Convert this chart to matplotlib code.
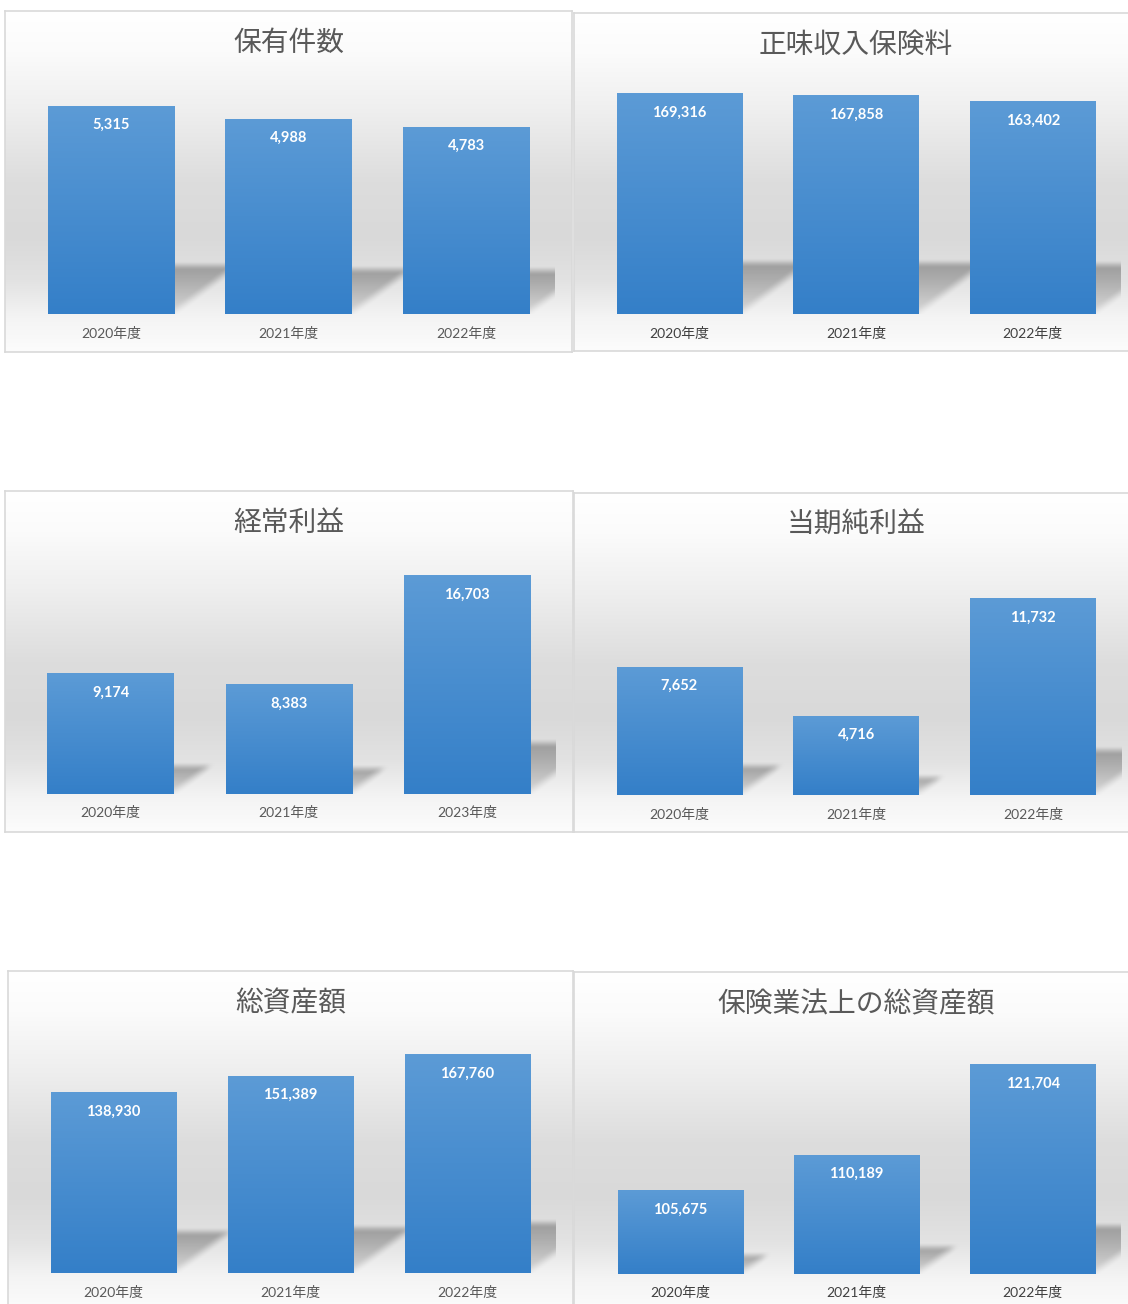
import numpy as np
import matplotlib
matplotlib.use("Agg")
import matplotlib.pyplot as plt

W, H = 1128, 1304
DPI = 100

# data
categories = ["2020年度", "2021年度", "2022年度"]
categories_ordinary = ["2020年度", "2021年度", "2023年度"]

holdings = [5315, 4988, 4783]
net_premiums = [169316, 167858, 163402]
ordinary_profit = [9174, 8383, 16703]
net_income = [7652, 4716, 11732]
total_assets = [138930, 151389, 167760]
statutory_assets = [105675, 110189, 121704]

titles = ["保有件数", "正味収入保険料", "経常利益", "当期純利益", "総資産額", "保険業法上の総資産額"]
y_ranges = [(0, 6000), (0, 180000), (0, 18000), (0, 14000), (0, 180000), (95000, 125000)]

panels = [
    (titles[0], categories, holdings, y_ranges[0]),
    (titles[1], categories, net_premiums, y_ranges[1]),
    (titles[2], categories_ordinary, ordinary_profit, y_ranges[2]),
    (titles[3], categories, net_income, y_ranges[3]),
    (titles[4], categories, total_assets, y_ranges[4]),
    (titles[5], categories, statutory_assets, y_ranges[5]),
]

# layout in pixels: panel box (l, t, r, b), plot area (l, t, r, b)
panel_boxes = [
    (5, 11, 572, 352), (574, 13, 1138, 351),
    (5, 491, 573, 832), (574, 493, 1138, 832),
    (8, 971, 573, 1311), (574, 972, 1138, 1312),
]
plot_boxes = [
    (22, 79.5, 555, 314), (591, 80, 1121, 314),
    (21.5, 558.5, 556, 794), (591, 561, 1121.5, 795),
    (25, 1039, 556, 1273), (592, 1039, 1121, 1274),
]
label_colors = ["#595959", "#404040", "#595959", "#595959", "#595959", "#404040"]

TITLE_FONT = ["Noto Sans CJK JP", "DejaVu Sans"]
LABEL_FONT = ["Lato", "Noto Sans CJK JP", "DejaVu Sans"]


def rect(box):
    l, t, r, b = box
    return [l / W, 1 - b / H, (r - l) / W, (b - t) / H]


def smooth(e0, e1, x):
    t = np.clip((x - e0) / (e1 - e0), 0, 1)
    return t * t * (3 - 2 * t)


# panel background gradient (top -> bottom)
stops = [0.0, 0.12, 0.30, 0.50, 0.66, 0.79, 0.90, 1.0]
greys = [255, 251, 238, 221, 217, 226, 244, 252]
f = np.linspace(0, 1, 500)
g = np.interp(f, stops, greys) / 255
bg_img = np.dstack([g, g, g]).reshape(500, 1, 3)

# bar gradient (top -> bottom)
top_c = np.array([92, 155, 214]) / 255
bot_c = np.array([52, 127, 200]) / 255
t = np.linspace(0, 1, 200)[:, None]
bar_img = (top_c * (1 - t) + bot_c * t).reshape(200, 1, 3)

fig = plt.figure(figsize=(W / DPI, H / DPI), dpi=DPI)
fig.patch.set_facecolor("white")

for i, (title, cats, vals, (y0, y1)) in enumerate(panels):
    ax_bg = fig.add_axes(rect(panel_boxes[i]))
    ax_bg.imshow(bg_img, aspect="auto", extent=(0, 1, 0, 1), interpolation="bilinear")
    ax_bg.set_xlim(0, 1)
    ax_bg.set_ylim(0, 1)
    ax_bg.set_xticks([])
    ax_bg.set_yticks([])
    for s in ax_bg.spines.values():
        s.set_color("#d9d9d9")
        s.set_linewidth(1.2)

    ax = fig.add_axes(rect(plot_boxes[i]))
    ax.patch.set_alpha(0)
    x = np.arange(len(cats))
    heights = np.array(vals) - y0
    bars = ax.bar(x, heights, bottom=y0, width=0.71, color="none", edgecolor="none")
    ax.set_xlim(-0.5, len(cats) - 0.5)
    ax.set_ylim(y0, y1)
    ax.axis("off")

    inv = ax.transData.inverted()
    for p, v in zip(bars, vals):
        bx, bw = p.get_x(), p.get_width()
        ax.imshow(bar_img, aspect="auto", extent=(bx, bx + bw, y0, v), zorder=3,
                  interpolation="bilinear")

        # soft perspective shadow behind the bar
        xr_px, yb_px = ax.transData.transform((bx + bw, y0))
        _, yt_px = ax.transData.transform((bx + bw, v))
        h_px = yt_px - yb_px
        hs = 0.235 * h_px
        ds = 0.32 * h_px
        u = np.arange(-4, ds + 8)
        vv = np.arange(0, hs + 8)
        U, V = np.meshgrid(u, vv)
        diag = V - U * (hs / ds)
        a = (smooth(-5, 9, diag) * smooth(hs + 4, hs - 6, V) *
             smooth(ds + 5, ds - 9, U) * (0.3 + 0.7 * V / hs))
        sh = np.zeros(U.shape + (4,))
        sh[..., :3] = 0.45
        sh[..., 3] = np.clip(0.62 * a, 0, 1)
        (ex0, ey0) = inv.transform((xr_px + u[0], yb_px + vv[0]))
        (ex1, ey1) = inv.transform((xr_px + u[-1], yb_px + vv[-1]))
        ax.imshow(sh, aspect="auto", origin="lower", extent=(ex0, ex1, ey0, ey1),
                  zorder=2, interpolation="bilinear")

        ax.annotate(f"{v:,}", xy=(p.get_x() + bw / 2, v), xytext=(0, -19),
                    textcoords="offset pixels", ha="center", va="center",
                    color="white", fontsize=10.5, fontweight="bold", family=LABEL_FONT,
                    zorder=5)

    for xi, c in zip(x, cats):
        ax.annotate(c, xy=(xi, 0), xycoords=("data", "axes fraction"), xytext=(0, -19),
                    textcoords="offset pixels", ha="center", va="center",
                    color=label_colors[i], fontsize=10, family=LABEL_FONT,
                    annotation_clip=False)

    ax.set_xlim(-0.5, len(cats) - 0.5)
    ax.set_ylim(y0, y1)

    pl, pt, pr, pb = plot_boxes[i]
    tx = (pl + pr) / 2
    ty = panel_boxes[i][1] + 32
    fig.text(tx / W, 1 - ty / H, title, ha="center", va="center", fontsize=20,
             color="#595959", family=TITLE_FONT)

fig.savefig("out.png", dpi=DPI)
